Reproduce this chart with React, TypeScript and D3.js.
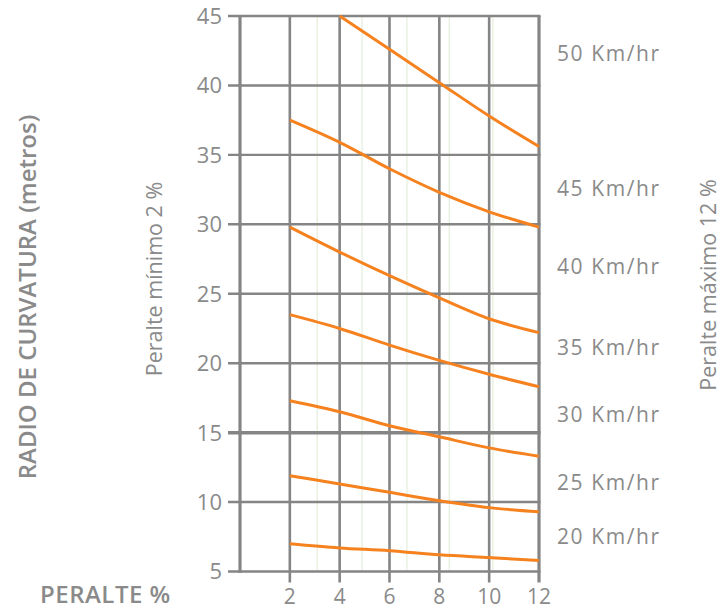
import React from "react";
import * as d3 from "d3";

// ---- data ----
const peralteTicks = [2, 4, 6, 8, 10, 12];
const radioTicks = [5, 10, 15, 20, 25, 30, 35, 40, 45];
const verticalGrid = [0, 2, 4, 6, 8, 10, 12];
const faintGrid = [3.1, 4.9, 6.7, 8.4, 10.15];

const peralte50 = [4, 6, 8, 10, 12];
const radio50 = [45.0, 42.6, 40.2, 37.8, 35.6];
const peralteAll = [2, 4, 6, 8, 10, 12];
const radio45 = [37.5, 35.9, 34.0, 32.3, 30.9, 29.8];
const radio40 = [29.8, 28.0, 26.3, 24.7, 23.2, 22.2];
const radio35 = [23.5, 22.5, 21.3, 20.2, 19.2, 18.3];
const radio30 = [17.3, 16.5, 15.5, 14.7, 13.9, 13.3];
const radio25 = [11.9, 11.3, 10.7, 10.1, 9.6, 9.3];
const radio20 = [7.0, 6.7, 6.5, 6.2, 6.0, 5.8];

const speedLabels = ["50 Km/hr", "45 Km/hr", "40 Km/hr", "35 Km/hr", "30 Km/hr", "25 Km/hr", "20 Km/hr"];
const speedLabelAt = [42.3, 32.6, 27.0, 21.1, 16.3, 11.4, 7.5];

const series = [
  { xs: peralte50, ys: radio50 },
  { xs: peralteAll, ys: radio45 },
  { xs: peralteAll, ys: radio40 },
  { xs: peralteAll, ys: radio35 },
  { xs: peralteAll, ys: radio30 },
  { xs: peralteAll, ys: radio25 },
  { xs: peralteAll, ys: radio20 },
];

const GRID = "#858585";
const TEXT = "#8a8a8a";
const ORANGE = "#f5821f";
const FONT = "'Open Sans', 'Noto Sans', sans-serif";

export default function App() {
  const W = 722, H = 611;
  const x = d3.scaleLinear().domain([0, 12]).range([240, 539]);
  const y = d3.scaleLinear().domain([5, 45]).range([571.5, 16]);
  const line = d3
    .line<[number, number]>()
    .x((d) => x(d[0]))
    .y((d) => y(d[1]))
    .curve(d3.curveMonotoneX);

  return (
    <svg
      width={W}
      height={H}
      style={{ position: "absolute", left: 0, top: 0, background: "#fff" }}
      fontFamily={FONT}
    >
      {/* faint vertical lines */}
      {faintGrid.map((v) => (
        <line key={"f" + v} x1={x(v)} x2={x(v)} y1={y(45)} y2={y(5)} stroke="#e4eedb" strokeWidth={1.2} />
      ))}
      {/* horizontal grid */}
      {radioTicks.map((v) => (
        <line
          key={"h" + v}
          x1={x(0) - 12}
          x2={x(12) + 1.5}
          y1={y(v)}
          y2={y(v)}
          stroke={GRID}
          strokeWidth={v === 15 ? 3.5 : 2.4}
        />
      ))}
      {/* vertical grid */}
      {verticalGrid.map((v) => (
        <line
          key={"v" + v}
          x1={x(v)}
          x2={x(v)}
          y1={y(45)}
          y2={v === 0 ? y(5) + 1.2 : y(5) + 11}
          stroke={GRID}
          strokeWidth={v === 0 || v === 12 ? 3.2 : 2.6}
        />
      ))}
      {/* curves */}
      {series.map((s, i) => (
        <path
          key={"s" + i}
          d={line(s.xs.map((xv, j) => [xv, s.ys[j]] as [number, number])) || ""}
          fill="none"
          stroke={ORANGE}
          strokeWidth={3}
        />
      ))}
      {/* y tick labels */}
      {radioTicks.map((v) => (
        <text key={"yl" + v} x={222} y={y(v)} dy="0.36em" textAnchor="end" fontSize={22} fill={TEXT}>
          {v}
        </text>
      ))}
      {/* x tick labels */}
      {peralteTicks.map((v) => (
        <text key={"xl" + v} x={x(v)} y={604} textAnchor="middle" fontSize={21} fill={TEXT}>
          {v}
        </text>
      ))}
      {/* speed labels */}
      {speedLabels.map((t, i) => (
        <text key={t} x={557} y={y(speedLabelAt[i])} dy="0.36em" fontSize={21} letterSpacing={1.6} fill={TEXT}>
          {t}
        </text>
      ))}
      <text
        transform="translate(36,297) rotate(-90)"
        textAnchor="middle"
        fontSize={24}
        fontWeight={600}
        fill={TEXT}
      >
        RADIO DE CURVATURA (metros)
      </text>
      <text transform="translate(162,279) rotate(-90)" textAnchor="middle" fontSize={21.5} fill={TEXT}>
        Peralte mínimo 2 %
      </text>
      <text transform="translate(716,285) rotate(-90)" textAnchor="middle" fontSize={21.5} fill={TEXT}>
        Peralte máximo 12 %
      </text>
      <text x={40} y={603} fontSize={24} fontWeight={600} letterSpacing={0.5} fill={TEXT}>
        PERALTE %
      </text>
    </svg>
  );
}
